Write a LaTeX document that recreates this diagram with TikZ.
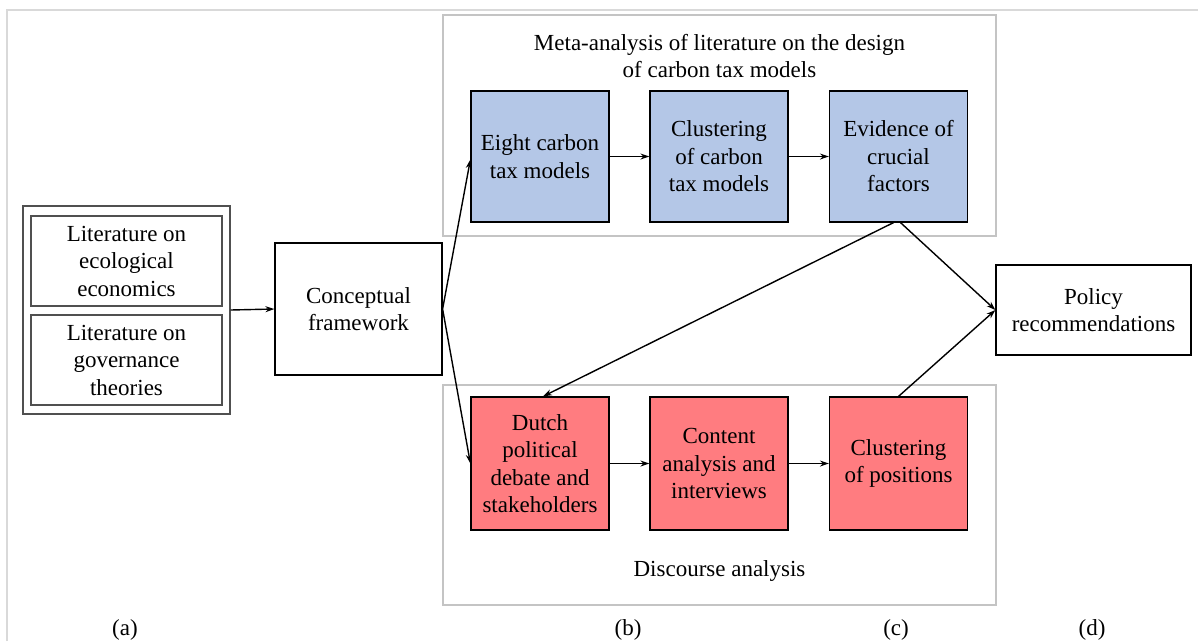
\documentclass[tikz,border=0pt]{standalone}
\usepackage{fontspec}
\setmainfont{Liberation Serif}
\newfontfamily\tnr{Liberation Serif}
\usetikzlibrary{arrows.meta}
\definecolor{boxblue}{HTML}{B4C7E7}
\definecolor{boxred}{HTML}{FF7C80}
\definecolor{framegray}{HTML}{D9D9D9}
\definecolor{contgray}{HTML}{C4C4C4}
\definecolor{litgray}{HTML}{505050}
\tikzset{
  txt/.style={font=\tnr\fontsize{23}{27.5}\selectfont, align=center, inner sep=0pt},
  plainbox/.style={txt, draw=black, line width=1.2pt, rectangle, fill=white},
  litbox/.style={txt, draw=litgray, line width=1.2pt, rectangle},
  container/.style={draw=contgray, line width=1.2pt, rectangle, inner sep=0pt},
  bluebox/.style={txt, draw=black, line width=1.2pt, fill=boxblue, minimum width=138pt, minimum height=131pt},
  redbox/.style={txt, draw=black, line width=1.2pt, fill=boxred, minimum width=138pt, minimum height=133pt},
  conn/.style={line width=1.4pt, -{Stealth[length=9pt,width=6pt]}},
}
\begin{document}
\begin{tikzpicture}[x=1pt,y=-1pt]
\useasboundingbox (0,0) rectangle (1198,641);
\fill[white] (0,0) rectangle (1198,641);
% outer frame
\draw[framegray, line width=1.5pt] (7,641) -- (7,10) -- (1198,10);
% containers
\node[container, minimum width=553pt, minimum height=221pt] (topc) at (719.5,125.5) {};
\node[container, minimum width=553pt, minimum height=220pt] (botc) at (719.5,495) {};
% left literature group
\node[litbox, minimum width=207pt, minimum height=208pt] (lit) at (126.5,310) {};
\node[litbox, minimum width=191pt, minimum height=90pt] (eco) at (126.5,261) {Literature on\\ecological\\economics};
\node[litbox, minimum width=191pt, minimum height=90pt] (gov) at (126.5,360) {Literature on\\governance\\theories};
% conceptual framework
\node[plainbox, minimum width=167pt, minimum height=132pt] (cf) at (358.5,309) {Conceptual\\framework};
% titles
\node[txt] (toptitle) at (719.5,56) {Meta-analysis of literature on the design\\of carbon tax models};
\node[txt] (bottitle) at (719.5,571) {Discourse analysis};
% blue boxes
\node[bluebox] (b1) at (540,156.5) {Eight carbon\\tax models};
\node[bluebox] (b2) at (719,156.5) {Clustering\\of carbon\\tax models};
\node[bluebox] (b3) at (898.5,156.5) {Evidence of\\crucial\\factors};
% red boxes
\node[redbox] (r1) at (540,463.5) {Dutch\\political\\debate and\\stakeholders};
\node[redbox] (r2) at (719,463.5) {Content\\analysis and\\interviews};
\node[redbox] (r3) at (898.5,463.5) {Clustering\\of positions};
% policy
\node[plainbox, minimum width=195pt, minimum height=90pt] (pol) at (1093.5,310) {Policy\\recommendations};
% labels
\node[txt] (la) at (125,630) {(a)};
\node[txt] (lb) at (628,630) {(b)};
\node[txt] (lc) at (896,630) {(c)};
\node[txt] (ld) at (1092,630) {(d)};
% connectors
\draw[conn] (lit.east) -- (cf.west);
\draw[conn] (cf.east) -- ([yshift=-3pt]b1.west);
\draw[conn] (cf.east) -- (r1.west);
\draw[conn] (b1.east) -- (b2.west);
\draw[conn] (b2.east) -- (b3.west);
\draw[conn] (r1.east) -- (r2.west);
\draw[conn] (r2.east) -- (r3.west);
\draw[conn] ([xshift=-5pt]b3.south) -- ([xshift=3pt]r1.north);
\draw[conn] ([xshift=2pt]b3.south) -- (pol.west);
\draw[conn] (r3.north) -- (pol.west);
\end{tikzpicture}
\end{document}
